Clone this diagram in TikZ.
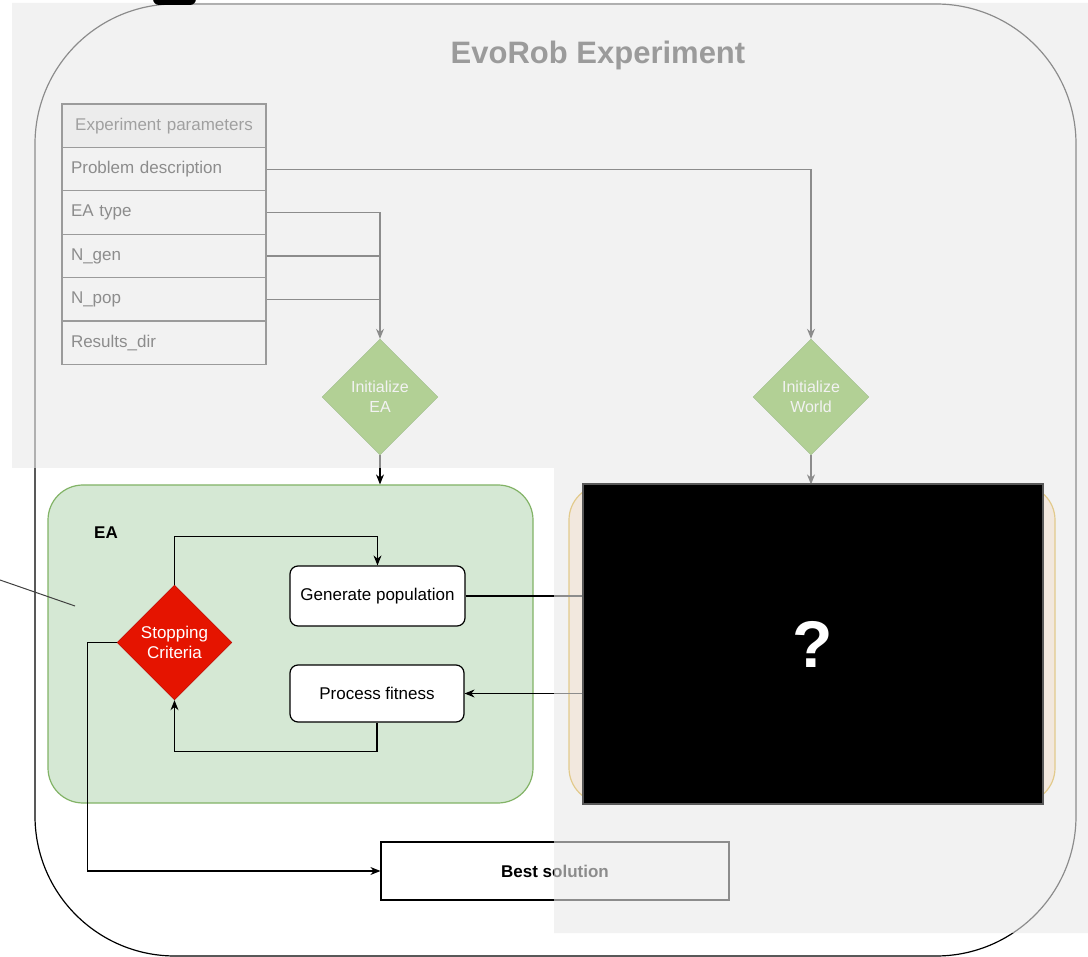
\documentclass[tikz,border=0pt]{standalone}
\usepackage{fontspec}
\setmainfont{Liberation Sans}
\usetikzlibrary{shapes.geometric,arrows.meta}

\definecolor{eafill}{HTML}{D5E8D4}
\definecolor{eadraw}{HTML}{82B366}
\definecolor{wfill}{HTML}{FFE6CC}
\definecolor{wdraw}{HTML}{D79B00}
\definecolor{initfill}{HTML}{60A917}
\definecolor{initdraw}{HTML}{2D7600}
\definecolor{stopfill}{HTML}{E51400}
\definecolor{stopdraw}{HTML}{B20000}
\definecolor{hdrfill}{HTML}{F0F0F0}
\definecolor{veil}{HTML}{EAEAEA}

\tikzset{
  txt/.style={font=\fontsize{17}{20}\selectfont},
  proc/.style={txt, draw=black, fill=white, rounded corners=8pt,
    line width=1.2pt, inner sep=0pt},
  row/.style={txt, draw=black!85, fill=white, line width=1.2pt,
    minimum width=204pt, minimum height=43.4pt, text width=186pt,
    align=left, inner xsep=9pt, inner ysep=0pt},
  decide/.style={diamond, inner sep=0pt, align=center, text=white,
    font=\fontsize{16}{20}\selectfont},
  group/.style={rounded corners=35pt, line width=1.2pt,
    minimum width=485pt, minimum height=318pt},
  arr/.style={-{Stealth[length=10pt,width=8pt]}, line width=1.2pt},
  link/.style={line width=1.2pt}
}

\begin{document}
\begin{tikzpicture}[x=1pt,y=-1pt]
\useasboundingbox (0,0) rectangle (1088,957);

% outer experiment frame
\draw[line width=1.2pt, fill=white, rounded corners=140pt] (35,4) rectangle (1076,956);
\node[font=\fontsize{31}{36}\selectfont\bfseries, text=black!85] (title) at (598,55) {EvoRob Experiment};

% parameter table
\node[row, fill=hdrfill, text=black!80, align=center] (hdr) at (164,125.8) {Experiment parameters};
\node[row] (pd)  at (164,169.2) {Problem description};
\node[row] (eat) at (164,212.6) {EA type};
\node[row] (ng)  at (164,256.0) {N\_gen};
\node[row] (np)  at (164,299.4) {N\_pop};
\node[row] (rd)  at (164,342.8) {Results\_dir};

% initialisation steps
\node[decide, fill=initfill, draw=initdraw, minimum width=116pt, minimum height=116pt] (ie) at (380,397) {Initialize\\EA};
\node[decide, fill=initfill, draw=initdraw, minimum width=116pt, minimum height=116pt] (iw) at (811,397) {Initialize\\World};

% EA group and world group
\node[group, draw=eadraw, fill=eafill] (ea) at (290.5,644) {};
\node[group, draw=wdraw, fill=wfill, minimum width=486pt] (world) at (812,644) {};
\node[font=\fontsize{17}{20}\selectfont\bfseries] (ealbl) at (106,533) {EA};

\node[decide, fill=stopfill, draw=stopdraw, minimum width=115pt, minimum height=115pt, font=\fontsize{17}{20}\selectfont] (stop) at (174.5,642.5) {Stopping\\Criteria};
\node[proc, minimum width=175pt, minimum height=60pt] (gen) at (377.5,596) {Generate population};
\node[proc, minimum width=174pt, minimum height=57pt] (fit) at (377,693.5) {Process fitness};
\node[txt, font=\fontsize{17}{20}\selectfont\bfseries, draw=black, fill=white, line width=1.2pt,
      minimum width=348pt, minimum height=58pt, inner sep=0pt] (best) at (555,871) {Best solution};

\coordinate (wIn)  at (640,596);
\coordinate (wOut) at (640,693.5);

% parameter connectors
\draw[arr] (pd.east) -| (iw.north);
\draw[arr] (eat.east) -| (ie.north);
\draw[link] (ng.east) -- (ng.east -| ie.north);
\draw[link] (np.east) -- (np.east -| ie.north);
\draw[arr] (ie.south) -- (ie.south |- ea.north);
\draw[arr] (iw.south) -- (iw.south |- world.north);

% EA loop
\draw[arr] (stop.north) -- ++(0,-48) -| (gen.north);
\draw[arr] (fit.south) -- ++(0,29) -| (stop.south);
\draw[arr] (gen.east) -- (wIn);
\draw[arr] (wOut) -- (fit.east);
\draw[arr] (stop.west) -- ++(-29,0) |- (best.west);

% veil over everything outside the focus area
\fill[veil, fill opacity=0.6] (12,3) -- (1088,3) -- (1088,933) -- (554,933) -- (554,468) -- (12,468) -- cycle;

% hidden world contents
\node[fill=black, draw=black!65, line width=1.5pt, minimum width=460pt, minimum height=320pt,
      text=white, font=\fontsize{66}{70}\selectfont\bfseries] (hidden) at (813,644) {?};

% cursor blob at the top edge
\fill[black, rounded corners=6pt] (153,-12) rectangle (196,5);

% pointer line
\coordinate (pl) at (0,580);
\coordinate (pr) at (75,606);
\draw[black!75, line width=1pt] (pl) -- (pr);
\end{tikzpicture}
\end{document}
